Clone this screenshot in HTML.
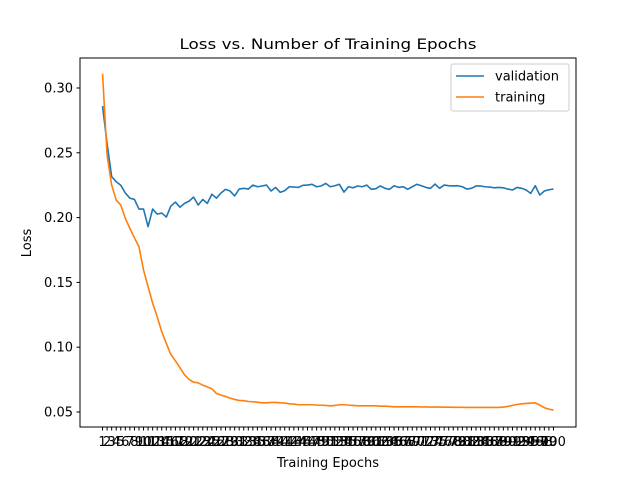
<!DOCTYPE html>
<html><head><meta charset="utf-8"><style>
body{margin:0;background:#fff;}
svg{display:block;font-family:"DejaVu Sans","Liberation Sans",sans-serif;}
</style></head><body>
<svg id="chart" width="640" height="480" viewBox="0 0 640 480" xmlns="http://www.w3.org/2000/svg">
<rect width="640" height="480" fill="#fff"/>
<text x="328" y="49" font-size="14.5" text-anchor="middle" textLength="297" lengthAdjust="spacingAndGlyphs">Loss vs. Number of Training Epochs</text>
<g id="plot"></g>
<rect x="80" y="58" width="496" height="369" fill="none" stroke="#000" stroke-width="1"/>
<text x="328" y="467" font-size="13" text-anchor="middle">Training Epochs</text>
<text x="31" y="243" font-size="13" text-anchor="middle" transform="rotate(-90 31 243)">Loss</text>
<g>
<rect x="451" y="64" width="118" height="47" fill="#fff" fill-opacity="0.8" stroke="#ccc" rx="2"/>
<line x1="456" y1="76" x2="484" y2="76" stroke="#1f77b4" stroke-width="1.5"/>
<text x="495" y="80.5" font-size="13">validation</text>
<line x1="456" y1="97" x2="484" y2="97" stroke="#ff7f0e" stroke-width="1.5"/>
<text x="495" y="101.5" font-size="13">training</text>
</g>
</svg>
<script>
const validation=[0.286,0.257,0.2316,0.2277,0.225,0.219,0.215,0.214,0.2066,0.2066,0.193,0.2066,0.2027,0.2035,0.2004,0.2089,0.212,0.208,0.211,0.2127,0.2158,0.2097,0.214,0.211,0.218,0.215,0.219,0.2218,0.2205,0.2167,0.222,0.2226,0.222,0.2251,0.2238,0.2244,0.2251,0.2205,0.2233,0.2195,0.2208,0.2238,0.2236,0.2233,0.2249,0.2251,0.2257,0.2238,0.2244,0.2264,0.2238,0.2246,0.2257,0.2197,0.2238,0.223,0.2244,0.2238,0.2251,0.2218,0.2223,0.2244,0.2226,0.2218,0.2246,0.2233,0.2238,0.2218,0.2238,0.2257,0.2246,0.2233,0.2226,0.2259,0.2226,0.2251,0.2246,0.2244,0.2246,0.2238,0.222,0.2226,0.2244,0.2244,0.2238,0.2236,0.223,0.2233,0.223,0.222,0.2213,0.2233,0.2226,0.2213,0.2187,0.2246,0.2174,0.2205,0.2215,0.222];
const training=[0.311,0.248,0.2251,0.2135,0.2097,0.1994,0.1917,0.1844,0.1775,0.1595,0.1466,0.134,0.1234,0.1119,0.1029,0.0944,0.0895,0.0841,0.0787,0.0751,0.073,0.0725,0.0707,0.0694,0.0679,0.0643,0.063,0.062,0.0607,0.0597,0.0589,0.0587,0.0581,0.0579,0.0576,0.0571,0.0571,0.0574,0.0574,0.0571,0.0569,0.0563,0.0561,0.0556,0.0556,0.0556,0.0556,0.0553,0.0553,0.0551,0.0548,0.0551,0.0556,0.0556,0.0553,0.0551,0.0548,0.0548,0.0548,0.0548,0.0548,0.0545,0.0545,0.0543,0.054,0.054,0.054,0.054,0.054,0.054,0.0539,0.0539,0.0538,0.0538,0.0538,0.0537,0.0537,0.0536,0.0536,0.0536,0.0535,0.0535,0.0535,0.0535,0.0535,0.0535,0.0535,0.0535,0.0538,0.0543,0.0551,0.0558,0.0563,0.0566,0.0569,0.0571,0.0553,0.0533,0.0522,0.0515];
const yTicks=[0.05,0.10,0.15,0.20,0.25,0.30];
const yTickLabels=["0.05","0.10","0.15","0.20","0.25","0.30"];
const NS="http://www.w3.org/2000/svg";
const g=document.getElementById('plot');
const n=validation.length;
function xs(e){const span=496/1.1;return 80+496*0.05/1.1+(e-1)*span/(n-1);}
function ys(v){return 412-(v-0.05)*(324/0.25);}
function mk(tag,attrs){const el=document.createElementNS(NS,tag);for(const k in attrs)el.setAttribute(k,attrs[k]);g.appendChild(el);return el;}
yTicks.forEach((t,i)=>{
  const l=mk('line',{x1:76.5,x2:80,y1:ys(t),y2:ys(t),stroke:'#000'});
  
  
  const tx=mk('text',{x:73,y:ys(t)+4.5,'font-size':13,'text-anchor':'end'});
  
  
  tx.textContent=yTickLabels[i];
});
for(let e=1;e<=n;e++){
  const x=xs(e);
  const l=mk('line',{x1:x,x2:x,y1:427,y2:430.5,stroke:'#000'});
  
  
  const tx=mk('text',{x:x,y:446,'font-size':13,'text-anchor':'middle'});
  
  
  tx.textContent=String(e);
}
function line(arr,color,name){
  const p=mk('polyline',{points:arr.map((v,i)=>xs(i+1)+','+ys(v)).join(' '),fill:'none',stroke:color,'stroke-width':1.6,'stroke-linejoin':'round'});
  
  
}
line(validation,'#1f77b4','validation-line');
line(training,'#ff7f0e','training-line');
</script>
</body></html>
